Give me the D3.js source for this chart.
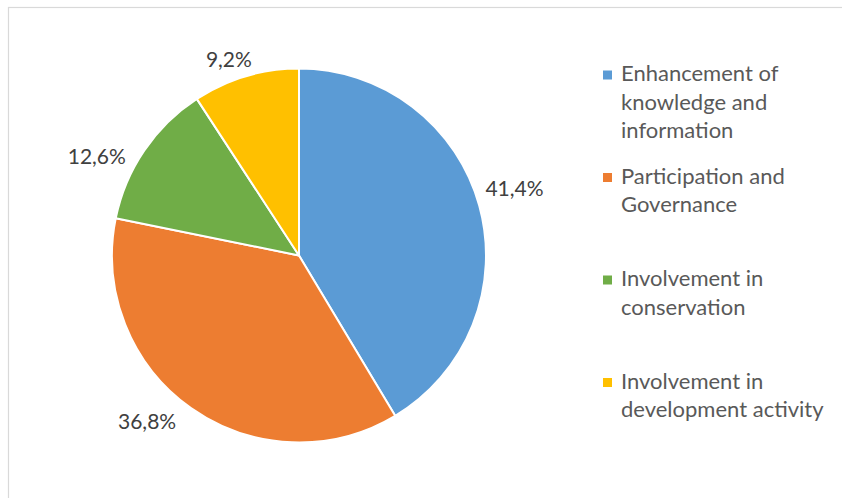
<!DOCTYPE html>
<html>
<head>
<meta charset="utf-8">
<script src="https://cdn.jsdelivr.net/npm/d3@7"></script>
<style>
  html, body { margin: 0; padding: 0; background: #fff; }
  svg { display: block; }
  text { font-family: Lato, "Open Sans", sans-serif; }
</style>
</head>
<body>
<svg id="chart" width="842" height="498"></svg>
<script>
// ---- data ----
const categories = [
  "Enhancement of knowledge and information",
  "Participation and Governance",
  "Involvement in conservation",
  "Involvement in development activity"
];
const values = [41.4, 36.8, 12.6, 9.2];
const valueLabels = ["41,4%", "36,8%", "12,6%", "9,2%"];
const legendLines = [
  ["Enhancement of", "knowledge and", "information"],
  ["Participation and", "Governance"],
  ["Involvement in", "conservation"],
  ["Involvement in", "development activity"]
];
const colors = ["#5B9BD5", "#ED7D31", "#70AD47", "#FFC000"];

// ---- layout / style ----
const cx = 299, cy = 255.5, R = 187;
const labelRadius = 221.5;
const labelNudge = [[2, -9], [-24, -16], [-19, 24.5], [-7, 15]];

const svg = d3.select("#chart");

svg.append("rect")
  .attr("x", 8.5).attr("y", 7.5)
  .attr("width", 860).attr("height", 520)
  .attr("fill", "none").attr("stroke", "#d9d9d9").attr("stroke-width", 1.2);

const pie = d3.pie().sort(null).value(d => d)(values);
const arc = d3.arc().innerRadius(0).outerRadius(R);
const labelArc = d3.arc().innerRadius(labelRadius).outerRadius(labelRadius);

const g = svg.append("g").attr("transform", `translate(${cx},${cy})`);

g.selectAll("path.slice")
  .data(pie)
  .join("path")
  .attr("class", "slice")
  .attr("d", arc)
  .attr("fill", (d, i) => colors[i])
  .attr("stroke", "#fff")
  .attr("stroke-width", 2)
  .attr("stroke-linejoin", "round");

g.selectAll("text.lbl")
  .data(pie)
  .join("text")
  .attr("class", "lbl")
  .attr("x", (d, i) => labelArc.centroid(d)[0] + labelNudge[i][0])
  .attr("y", (d, i) => labelArc.centroid(d)[1] + labelNudge[i][1])
  .attr("text-anchor", "middle")
  .attr("dominant-baseline", "central")
  .attr("font-size", 21)
  .attr("fill", "#404040")
  .text((d, i) => valueLabels[i]);

// ---- legend ----
const legX = 603, legTextX = 621, legY0 = 81, entryGap = 102.5, lineGap = 28.7;
const leg = svg.append("g");
categories.forEach((c, i) => {
  const baseY = legY0 + i * entryGap;
  leg.append("rect")
    .attr("x", legX).attr("y", baseY - 10.5)
    .attr("width", 9).attr("height", 9)
    .attr("fill", colors[i]);
  const t = leg.append("text")
    .attr("x", legTextX).attr("y", baseY)
    .attr("font-size", 22)
    .attr("fill", "#595959");
  legendLines[i].forEach((ln, k) => {
    t.append("tspan").attr("x", legTextX).attr("y", baseY + k * lineGap).text(ln);
  });
});
</script>
</body>
</html>
